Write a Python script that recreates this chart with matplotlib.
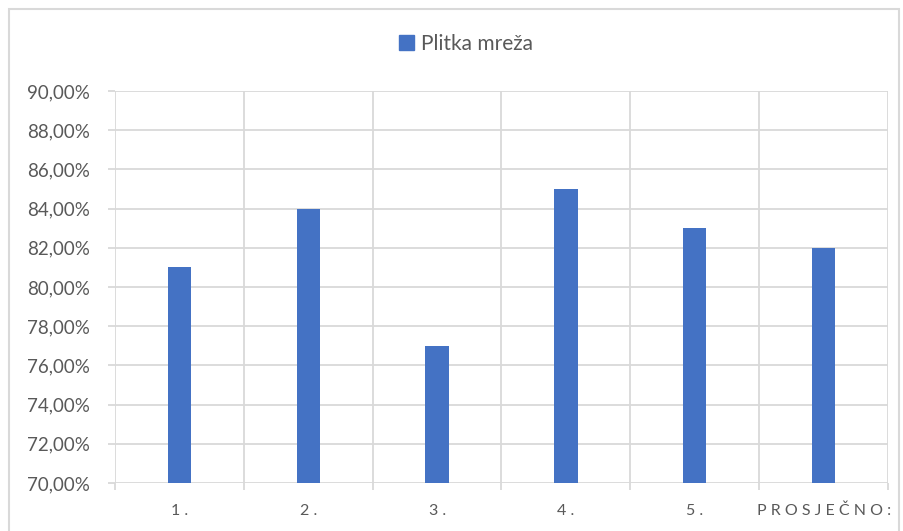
import numpy as np
import matplotlib.pyplot as plt
from matplotlib.patches import Rectangle
from matplotlib.ticker import FuncFormatter

plt.rcParams['font.family'] = ['Lato', 'DejaVu Sans']

# data
categories = ['1.', '2.', '3.', '4.', '5.', 'PROSJEČNO:']
values = [81, 84, 77, 85, 83, 82]
series_name = 'Plitka mreža'

W, H = 904, 531
fig = plt.figure(figsize=(W / 100, H / 100), dpi=100)

# outer chart border
fig.patches.append(Rectangle((9 / W, -0.05), 890 / W, 1.05 - 9 / H,
                             transform=fig.transFigure, fill=False,
                             edgecolor='#d9d9d9', linewidth=1.5))

ax = fig.add_axes([115 / W, 1 - 483 / H, (888 - 115) / W, (483 - 91) / H])
x = np.arange(len(categories))
ax.bar(x, values, width=0.18, color='#4472c4', zorder=3)

ax.set_ylim(70, 90)
ax.set_yticks(np.arange(70, 91, 2))
ax.yaxis.set_major_formatter(FuncFormatter(lambda v, p: f'{v:.2f}'.replace('.', ',') + '%'))
ax.set_xlim(-0.5, len(categories) - 0.5)
ax.set_xticks(x)
ax.set_xticklabels([' '.join(c) for c in categories])
ax.set_xticks(np.arange(-0.5, len(categories)), minor=True)

grid_c = '#d9d9d9'
ax.grid(True, axis='y', color=grid_c, linewidth=1.3, zorder=0)
ax.grid(True, axis='x', which='minor', color=grid_c, linewidth=1.3, zorder=0)
for s in ax.spines.values():
    s.set_visible(False)
ax.tick_params(axis='y', length=5, width=1.3, color=grid_c, labelsize=13.5,
               labelcolor='#595959', pad=13)
ax.tick_params(axis='x', which='major', length=0, labelsize=11.5,
               labelcolor='#595959', pad=15)
ax.tick_params(axis='x', which='minor', length=5, width=1.3, color=grid_c)

fig.legend([Rectangle((0, 0), 1, 1, color='#4472c4')], [series_name],
           loc='center', bbox_to_anchor=(466 / W, 1 - 44 / H), frameon=False,
           fontsize=15, labelcolor='#595959', handlelength=0.7, handleheight=0.7,
           handletextpad=0.35)

fig.savefig('out.png', dpi=100)
